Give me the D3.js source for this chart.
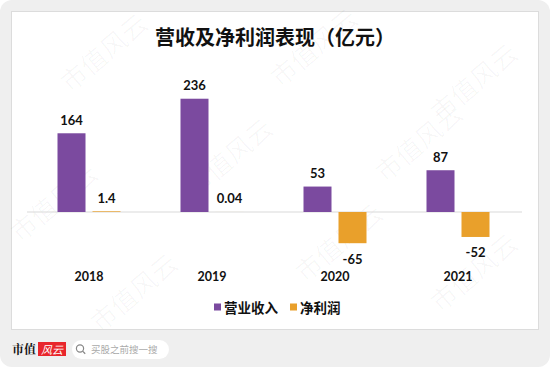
<!DOCTYPE html>
<html><head><meta charset="utf-8">
<script src="https://cdn.jsdelivr.net/npm/d3@7/dist/d3.min.js"></script>
<style>
html,body{margin:0;padding:0;background:#fff;}
svg{display:block;}
</style></head>
<body><svg id="c" width="550" height="367"></svg>
<script>
const years = ["2018", "2019", "2020", "2021"];
const seriesNames = ["营业收入", "净利润"];
const revenue = [164, 236, 53, 87];
const netProfit = [1.4, 0.04, -65, -52];
const revenueLabels = ["164", "236", "53", "87"];
const profitLabels = ["1.4", "0.04", "-65", "-52"];
const colors = ["#7b4a9f", "#e9a02b"];
const title = "营收及净利润表现（亿元）";

const svg = d3.select("#c");
const cjk = "'Noto Sans CJK SC', 'Noto Sans', sans-serif";
const num = "Lato, 'Open Sans', sans-serif";

// outer background
svg.append("rect").attr("x",0).attr("y",0).attr("width",550).attr("height",367)
  .attr("rx",12).attr("fill","#efefef");
// panel
svg.append("rect").attr("x",11.5).attr("y",11.5).attr("width",527).attr("height",318)
  .attr("fill","#fff").attr("stroke","#dcdcdc").attr("stroke-width",1);

// faint watermarks (kept inside the picture)
const wm = [[110,60],[320,55],[480,90],[60,210],[235,165],[425,150],[140,300],[345,250],[480,280]];
wm.forEach(([x,y])=>{
  svg.append("text").attr("transform",`translate(${x},${y}) rotate(-40)`)
    .attr("text-anchor","middle").attr("font-family",cjk).attr("font-size",26)
    .attr("fill","rgba(0,0,0,0.03)").text("市值风云");
});

// title
svg.append("text").attr("x",275).attr("y",45).attr("text-anchor","middle")
  .attr("font-family",cjk).attr("font-weight","bold").attr("font-size",20)
  .attr("fill","#111").text(title);

const x0 = d3.scaleBand().domain(years).range([27.5,519.5]).paddingInner(0).paddingOuter(0);
const x1 = d3.scaleBand().domain(seriesNames).range([30,93]).paddingInner(0.2);
const y = d3.scaleLinear().domain([-70,240]).range([245.6,96.8]);

const data = years.map((yr,i)=>({year:yr, vals:[
  {s:seriesNames[0], v:revenue[i], lab:revenueLabels[i], c:colors[0]},
  {s:seriesNames[1], v:netProfit[i], lab:profitLabels[i], c:colors[1]}]}));

// zero line
svg.append("line").attr("x1",27).attr("x2",522).attr("y1",y(0)).attr("y2",y(0))
  .attr("stroke","#d9d9d9").attr("stroke-width",1);

const g = svg.selectAll("g.grp").data(data).enter().append("g")
  .attr("transform",d=>`translate(${x0(d.year)},0)`);
g.selectAll("rect").data(d=>d.vals).enter().append("rect")
  .attr("x",d=>x1(d.s)).attr("width",x1.bandwidth())
  .attr("y",d=>Math.min(y(d.v),y(0))).attr("height",d=>Math.abs(y(d.v)-y(0)))
  .attr("fill",d=>d.c);
g.selectAll("text").data(d=>d.vals).enter().append("text")
  .attr("x",d=>x1(d.s)+x1.bandwidth()/2)
  .attr("y",d=>d.v>=0 ? y(d.v)-8.5 : y(d.v)+20.5)
  .attr("text-anchor","middle").attr("font-family",num).attr("font-weight","bold")
  .attr("font-size",13).attr("fill","#111").text(d=>d.lab);

// category axis labels
const xAxis = d3.axisBottom(x0).tickSize(0).tickPadding(0);
const ax = svg.append("g").attr("transform","translate(0,272)").call(xAxis);
ax.select(".domain").remove();
ax.selectAll("text").attr("font-family",num).attr("font-weight","bold")
  .attr("font-size",12.5).attr("fill","#111");

// legend
const leg = [{x:214,t:seriesNames[0],c:colors[0]},{x:290,t:seriesNames[1],c:colors[1]}];
leg.forEach(l=>{
  svg.append("rect").attr("x",l.x).attr("y",303.5).attr("width",7).attr("height",7).attr("fill",l.c);
  svg.append("text").attr("x",l.x+10).attr("y",313).attr("font-family",cjk)
    .attr("font-weight","bold").attr("font-size",13.5).attr("fill","#111").text(l.t);
});

// footer logo
svg.append("text").attr("x",12).attr("y",354).attr("font-family","'Noto Serif CJK SC','Noto Sans CJK SC',serif")
  .attr("font-weight","bold").attr("font-size",12).attr("fill","#111").text("市值");
svg.append("rect").attr("x",38).attr("y",342).attr("width",28).attr("height",14).attr("fill","#e8262c");
svg.append("text").attr("x",52).attr("y",353.5).attr("text-anchor","middle").attr("font-family",cjk)
  .attr("font-style","italic").attr("font-size",11).attr("fill","#fff").text("风云");
svg.append("rect").attr("x",72).attr("y",340).attr("width",97).attr("height",19).attr("rx",9.5).attr("fill","#fff");
svg.append("circle").attr("cx",80).attr("cy",348.5).attr("r",3.6).attr("fill","none").attr("stroke","#888").attr("stroke-width",1.2);
svg.append("line").attr("x1",82.6).attr("y1",351.1).attr("x2",85.2).attr("y2",353.7).attr("stroke","#888").attr("stroke-width",1.3);
svg.append("text").attr("x",91).attr("y",353).attr("font-family",cjk).attr("font-size",9.5)
  .attr("fill","#aaa").text("买股之前搜一搜");
</script></body></html>
